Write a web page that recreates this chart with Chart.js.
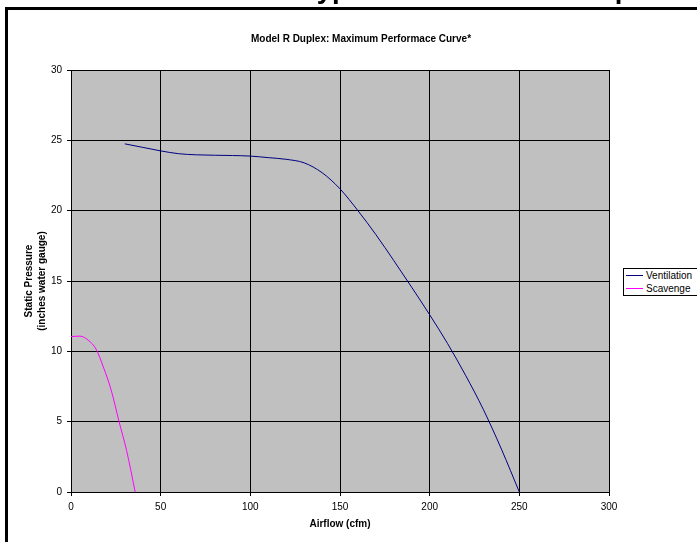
<!DOCTYPE html>
<html>
<head>
<meta charset="utf-8">
<title>Model R Duplex: Maximum Performace Curve</title>
<script src="https://cdn.jsdelivr.net/npm/chart.js@4.4.1/dist/chart.umd.min.js"></script>
<style>
  html, body { margin: 0; padding: 0; background: #fff; width: 697px; height: 542px; overflow: hidden; }
  #wrap { position: relative; width: 697px; height: 542px; overflow: hidden; }
  #chart { position: absolute; left: 0; top: 0; }
  #heading { position: absolute; left: 302px; top: -24.8px; white-space: nowrap;
    font: bold 27.5px "Liberation Sans", Arial, sans-serif; line-height: 27.5px; color: #000; }
  #ruleTop { position: absolute; left: 5px; top: 7px; width: 692px; height: 3px; background: #000; }
  #ruleLeft { position: absolute; left: 5px; top: 7px; width: 3px; height: 535px; background: #000; }
  #title { position: absolute; left: 0; top: 33px; width: 722px; text-align: center;
    font: bold 10px "Liberation Sans", Arial, sans-serif; line-height: 12px; color: #000; }
  #legend { position: absolute; left: 623px; top: 268px; width: 90px; border: 1px solid #000;
    background: #fff; font: 10px "Liberation Sans", Arial, sans-serif; color: #000; }
  #legend .item { position: relative; height: 13px; line-height: 13px; white-space: nowrap; padding-left: 22px; }
  #legend .swatch { position: absolute; left: 2px; top: 6px; width: 17px; height: 1px; }
</style>
</head>
<body>
<div id="wrap">
  <canvas id="chart" width="697" height="542"></canvas>
  <div id="heading">Typical Installation Setup</div>
  <div id="ruleTop"></div>
  <div id="ruleLeft"></div>
  <div id="title">Model R Duplex: Maximum Performace Curve*</div>
  <div id="legend"></div>
</div>
<script>
// ------ data ------
const ventFlow = [30, 40, 50, 60, 70, 80, 90, 100, 110, 120, 130, 140, 150, 160, 170, 180, 190, 200, 210, 220, 230, 240, 250];
const ventPressure = [24.75, 24.5, 24.25, 24.05, 23.97, 23.94, 23.92, 23.88, 23.77, 23.65, 23.4, 22.7, 21.55, 20.0, 18.3, 16.45, 14.55, 12.6, 10.55, 8.3, 5.85, 3.05, 0];

const scavFlow = [0, 5, 10, 14, 18, 22.5, 26.8, 31, 35.8];
const scavPressure = [11.05, 11.08, 10.75, 10.15, 8.9, 7.2, 5.0, 2.95, 0];

const seriesNames = ['Ventilation', 'Scavenge'];
const seriesColors = ['#000080', '#FF00FF'];

const xTicks = [0, 50, 100, 150, 200, 250, 300];
const yTicks = [0, 5, 10, 15, 20, 25, 30];

const FONT = '"Liberation Sans", Arial, sans-serif';

function toPoints(xs, ys) {
    return xs.map((x, i) => ({x: x, y: ys[i]}));
}

// grey plot area like the old excel chart
const plotBg = {
    id: 'plotBg',
    beforeDraw(chart) {
        const {ctx, chartArea} = chart;
        ctx.save();
        ctx.fillStyle = '#C0C0C0';
        ctx.fillRect(chartArea.left, chartArea.top, chartArea.width, chartArea.height);
        ctx.restore();
    }
};

const ctx = document.getElementById('chart').getContext('2d');
const myChart = new Chart(ctx, {
    type: 'line',
    data: {
        datasets: [{
            label: seriesNames[0],
            data: toPoints(ventFlow, ventPressure),
            borderColor: seriesColors[0],
            borderWidth: 1,
            cubicInterpolationMode: 'monotone'
        }, {
            label: seriesNames[1],
            data: toPoints(scavFlow, scavPressure),
            borderColor: seriesColors[1],
            borderWidth: 1,
            cubicInterpolationMode: 'monotone'
        }]
    },
    options: {
        responsive: false,
        animation: false,
        layout: { padding: { left: 23, top: 70, right: 88, bottom: 12 } },
        elements: { point: { radius: 0, hoverRadius: 0 } },
        plugins: {
            legend: { display: false },
            title: { display: false },
            tooltip: { enabled: false }
        },
        scales: {
            x: {
                type: 'linear',
                min: 0,
                max: 300,
                afterBuildTicks: s => { s.ticks = xTicks.map(v => ({value: v})); },
                afterFit: s => { s.height = 38; },
                grid: { color: '#000', tickColor: '#000', tickLength: 4, lineWidth: 1 },
                border: { color: '#000', width: 1 },
                ticks: { color: '#000', font: { family: FONT, size: 10 }, padding: 5, maxRotation: 0 },
                title: {
                    display: true,
                    text: 'Airflow (cfm)',
                    color: '#000',
                    font: { family: FONT, size: 10, weight: 'bold', lineHeight: 1.2 },
                    padding: 0
                }
            },
            y: {
                type: 'linear',
                min: 0,
                max: 30,
                afterBuildTicks: s => { s.ticks = yTicks.map(v => ({value: v})); },
                afterFit: s => { s.width = 48; },
                grid: { color: '#000', tickColor: '#000', tickLength: 4, lineWidth: 1 },
                border: { color: '#000', width: 1 },
                ticks: { color: '#000', font: { family: FONT, size: 10 }, padding: 5 },
                title: {
                    display: true,
                    text: ['Static Pressure', '(inches water gauge)'],
                    color: '#000',
                    font: { family: FONT, size: 10, weight: 'bold', lineHeight: 1.3 },
                    padding: 0
                }
            }
        }
    },
    plugins: [plotBg]
});

// ------ legend box ------
const legendBox = document.getElementById('legend');
seriesNames.forEach((name, i) => {
    const item = document.createElement('div');
    item.className = 'item';
    const sw = document.createElement('span');
    sw.className = 'swatch';
    sw.style.background = seriesColors[i];
    item.appendChild(sw);
    item.appendChild(document.createTextNode(name));
    legendBox.appendChild(item);
});
</script>
</body>
</html>
